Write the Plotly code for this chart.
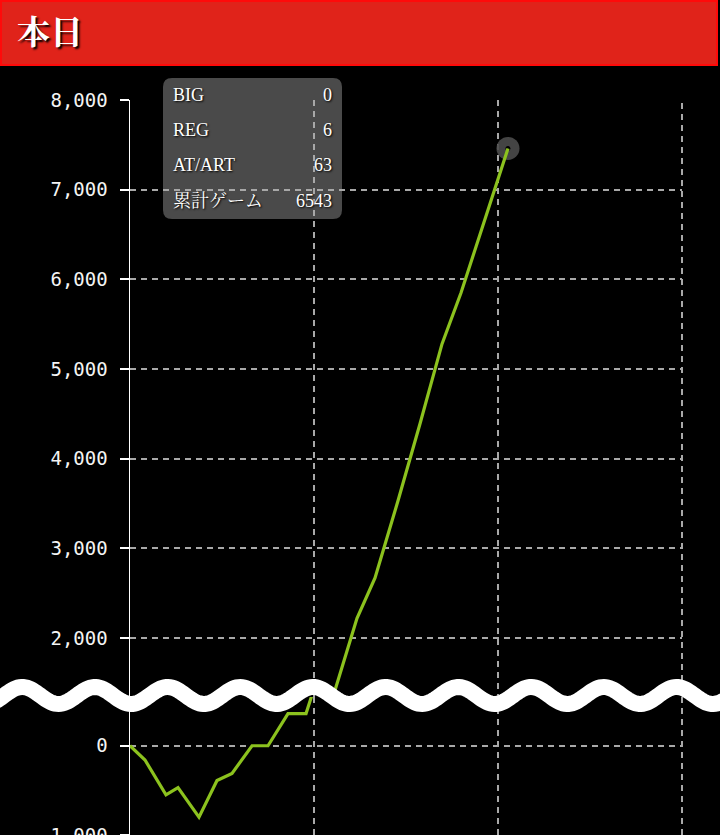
import numpy as np
import plotly.graph_objects as go

# ---- data ----
games = [0, 260, 623, 831, 1194, 1506, 1766, 2112, 2389, 2735, 3047,
         3929, 4241, 4639, 5020, 5401, 5730, 6543]
diff = [0, -160, -550, -470, -800, -390, -310, 0, 0, 360, 360,
        2220, 2670, 3530, 4390, 5280, 5850, 7460]
y_ticks_upper = [2000, 3000, 4000, 5000, 6000, 7000, 8000]
y_ticks_lower = [-1000, 0]
stat_labels = ["BIG", "REG", "AT/ART", "累計ゲーム"]
stat_values = ["0", "6", "63", "6543"]
header_title = "本日"

# ---- layout constants ----
W, H = 720, 835
L, R, T, B = 130, 38, 100, 0
PW, PH = W - L - R, H - T - B
BREAK_PX = 697
X_MAX = 9555
X_DTICK = 3185
UP_RANGE = [1342, 8000]
LO_RANGE = [-1000, 546]
d = (H - BREAK_PX) / PH


def px(xp):
    return (xp - L) / PW


def py(yp):
    return (H - yp) / PH


GREEN = "#8CC21E"
GRID = "#a8a8a8"
MONO = "DejaVu Sans Mono, monospace"
SERIF = "Liberation Serif, Noto Serif CJK JP, Noto Sans CJK JP, serif"

fig = go.Figure()

# end-point marker (below line)
fig.add_trace(go.Scatter(x=[games[-1]], y=[diff[-1]], xaxis="x2", yaxis="y2",
                         mode="markers", hoverinfo="skip",
                         marker=dict(size=23, color="rgba(75,75,75,0.9)",
                                     line=dict(width=0))))
fig.add_trace(go.Scatter(x=[games[-1]], y=[diff[-1]], xaxis="x2", yaxis="y2",
                         mode="markers", hoverinfo="skip",
                         marker=dict(size=5, color="#000000",
                                     line=dict(width=0))))
# line in both halves of the broken axis
for xa, ya in (("x", "y"), ("x2", "y2")):
    fig.add_trace(go.Scatter(x=games, y=diff, xaxis=xa, yaxis=ya,
                             mode="lines", hoverinfo="skip",
                             line=dict(color=GREEN, width=3.2)))

grid_common = dict(showgrid=True, gridcolor=GRID, gridwidth=2,
                   griddash="6px,5px", zeroline=False, automargin=False)
xcommon = dict(range=[0, X_MAX], tickmode="linear", tick0=0, dtick=X_DTICK,
               showticklabels=False, ticks="", showline=False, **grid_common)
ycommon = dict(tickformat=",", ticks="outside", ticklen=9, tickwidth=2,
               tickcolor="#ffffff", showline=True, linecolor="#ffffff",
               linewidth=1.5, ticklabelstandoff=8, ticklabeloverflow="allow",
               tickfont=dict(family=MONO, size=19, color="#f4f4f4"),
               **grid_common)

fig.update_layout(
    width=W, height=H, autosize=False,
    margin=dict(l=L, r=R, t=T, b=B, pad=0, autoexpand=False),
    paper_bgcolor="#000000", plot_bgcolor="rgba(0,0,0,0)",
    showlegend=False,
    xaxis=dict(domain=[0, 1], anchor="y", **xcommon),
    xaxis2=dict(domain=[0, 1], anchor="y2", matches="x", **xcommon),
    yaxis=dict(domain=[0, d], anchor="x", range=LO_RANGE,
               tickmode="array", tickvals=y_ticks_lower, **ycommon),
    yaxis2=dict(domain=[d, 1], anchor="x2", range=UP_RANGE,
                tickmode="array", tickvals=y_ticks_upper, **ycommon),
)

shapes = []
# right-edge vertical grid line (range end)
shapes.append(dict(type="line", xref="paper", yref="paper",
                   x0=1, x1=1, y0=0, y1=1,
                   line=dict(color=GRID, width=2, dash="6px,5px"),
                   layer="between"))
# header bar
shapes.append(dict(type="rect", xref="paper", yref="paper",
                   x0=px(1), x1=px(717), y0=py(65), y1=py(1),
                   fillcolor="#E0231A", line=dict(color="#FF0a0a", width=2),
                   layer="above"))

# stats box (rounded rectangle, below grid)
bx0, bx1, by0, by1, r = 163, 342, 78, 219, 9
pts = [
    f"M {px(bx0 + r)},{py(by0)}",
    f"L {px(bx1 - r)},{py(by0)}",
    f"Q {px(bx1)},{py(by0)} {px(bx1)},{py(by0 + r)}",
    f"L {px(bx1)},{py(by1 - r)}",
    f"Q {px(bx1)},{py(by1)} {px(bx1 - r)},{py(by1)}",
    f"L {px(bx0 + r)},{py(by1)}",
    f"Q {px(bx0)},{py(by1)} {px(bx0)},{py(by1 - r)}",
    f"L {px(bx0)},{py(by0 + r)}",
    f"Q {px(bx0)},{py(by0)} {px(bx0 + r)},{py(by0)}",
    "Z",
]
shapes.append(dict(type="path", xref="paper", yref="paper", path=" ".join(pts),
                   fillcolor="#4a4a4a", line=dict(width=0), layer="below"))

# axis-break wave (decoration)
wx = np.linspace(-10, W + 10, 400)
wy = 695.5 - 8.5 * np.cos(2 * np.pi * (wx - 313) / 72.7)
wave_path = "M " + " L ".join(f"{px(a):.5f},{py(b):.5f}" for a, b in zip(wx, wy))
shapes.append(dict(type="path", xref="paper", yref="paper", path=wave_path,
                   line=dict(color="#ffffff", width=16), layer="above"))
fig.update_layout(shapes=shapes)

ann = []
ann.append(dict(xref="paper", yref="paper", x=px(15), y=py(33),
                xanchor="left", yanchor="middle", showarrow=False,
                text=f"<b>{header_title}</b>",
                font=dict(family=SERIF, size=33, color="#ffffff",
                          shadow="2px 2px 2px #000000")))
row_y = [94.5, 129.8, 165.2, 200.5]
for lab, val, yy in zip(stat_labels, stat_values, row_y):
    ann.append(dict(xref="paper", yref="paper", x=px(171), y=py(yy),
                    xanchor="left", yanchor="middle", showarrow=False,
                    text=lab,
                    font=dict(family=SERIF, size=18, color="#ffffff",
                              shadow="1px 1px 2px #000000")))
    ann.append(dict(xref="paper", yref="paper", x=px(334), y=py(yy),
                    xanchor="right", yanchor="middle", showarrow=False,
                    text=val,
                    font=dict(family=SERIF, size=18, color="#ffffff",
                              shadow="1px 1px 2px #000000")))
fig.update_layout(annotations=ann)

fig.write_html(
    "out.html",
    config={"displayModeBar": False, "staticPlot": True},
    post_script="document.body.style.margin='0';"
                "document.body.style.background='#000';"
                "document.body.style.overflow='hidden';",
)
